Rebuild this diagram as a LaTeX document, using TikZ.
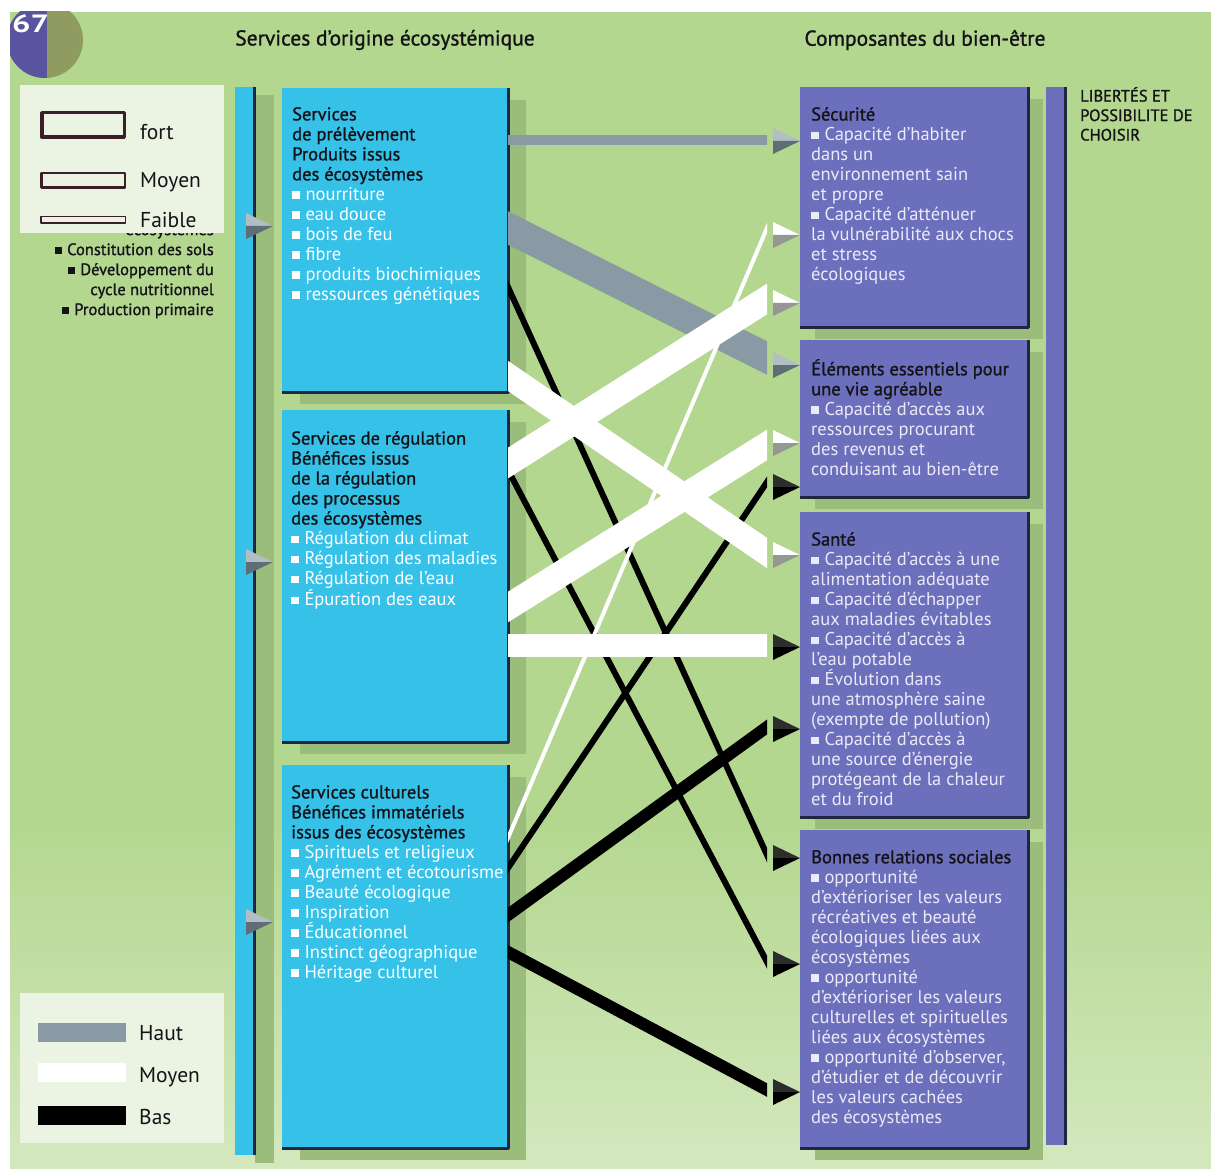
\documentclass[tikz,border=0pt]{standalone}
\usepackage{fontspec}
\usepackage{graphicx}
\setmainfont{PT Sans}
\newfontfamily\demi[FakeBold=1.2]{PT Sans}
\usetikzlibrary{shadows}
\definecolor{fond}{RGB}{179,215,143}
\definecolor{fondclair}{RGB}{212,232,190}
\definecolor{ombre}{RGB}{155,189,124}
\definecolor{bleu}{RGB}{54,193,232}
\definecolor{violet}{RGB}{107,111,188}
\definecolor{arete}{RGB}{30,38,66}
\definecolor{gris}{RGB}{138,154,164}
\definecolor{grisclair}{RGB}{178,190,198}
\definecolor{grisfonce}{RGB}{96,108,118}
\definecolor{blancombre}{RGB}{150,150,150}
\definecolor{noirclair}{RGB}{45,45,45}
\definecolor{cadre}{RGB}{58,30,42}
\definecolor{legende}{RGB}{235,244,227}
\definecolor{titre}{RGB}{20,20,24}
\definecolor{item}{RGB}{236,234,248}
\definecolor{disque}{RGB}{88,84,160}
\definecolor{olive}{RGB}{143,155,96}
\newcommand\carre{\rule[0.06em]{0.42em}{0.42em}\hspace{0.3em}}
\newcommand\titl[1]{{\demi\textcolor{titre}{#1}}}
\newcommand\pointe[4]{% base x, centre y, moitie haute, moitie basse
  \fill[#3] (#1,#2-13) -- (#1+27,#2) -- (#1,#2) -- cycle;
  \fill[#4] (#1,#2) -- (#1+27,#2) -- (#1,#2+13) -- cycle;}
\begin{document}
\begin{tikzpicture}[x=1pt,y=-1pt,line join=round,
    boitebleue/.style={fill=bleu,anchor=north west,inner sep=0pt,minimum width=226,minimum height=#1,
      drop shadow={shadow xshift=18pt,shadow yshift=-12pt,fill=ombre,opacity=1}},
    boiteviolette/.style={fill=violet,anchor=north west,inner sep=0pt,minimum width=228,minimum height=#1,
      drop shadow={shadow xshift=15pt,shadow yshift=-12pt,fill=ombre,opacity=1}},
    barre/.style={anchor=north west,inner sep=0pt,minimum width=19,minimum height=#1},
    bord/.style={arete,line width=2.5,line cap=butt},
    texte/.style={anchor=north west,inner sep=0pt,align=left,text=white,font=\fontsize{18.5}{20}\selectfont},
    bande/.style={line cap=butt,shorten <=-40pt,shorten >=-40pt},
    cadrelegende/.style={fill=legende,anchor=north west,inner sep=0pt,minimum width=204,minimum height=#1},
    etiquette/.style={anchor=base west,inner sep=0pt,text=titre,font=\fontsize{21.5}{22}\selectfont}]
  \useasboundingbox (0,0) rectangle (1211,1169);
  \fill[white] (0,0) rectangle (1211,1169);
  \fill[fond] (10,12) rectangle (1211,820);
  \shade[top color=fond,bottom color=fondclair] (10,819) rectangle (1211,1169);
  % pastille 67
  \begin{scope}
    \clip (10,12) rectangle (100,100);
    \clip (45,40) circle (38);
    \fill[olive] (0,0) rectangle (100,100);
    \fill[disque] (0,0) rectangle (47,100);
  \end{scope}
  \node[anchor=north west,inner sep=0pt,text=white,font=\bfseries\fontsize{25}{25}\selectfont] (num) at (12,14) {\scalebox{1.3}[1]{67}};
  % services d'auto-entretien, en partie caches
  \node[anchor=north east,inner sep=0pt,align=right,text=titre,font=\demi\fontsize{16.5}{20}\selectfont] (auto) at (214,223)
    {écosystèmes\\ \carre Constitution des sols\\ \carre Développement du\\ cycle nutritionnel\\ \carre Production primaire};
  % legende intensite
  \node[cadrelegende=148] (leg-intens) at (20,85) {};
  \draw[cadre,line width=3.5] (41.75,112.75) rectangle (124.25,137.25);
  \draw[cadre,line width=2.5] (41.25,173.25) rectangle (124.75,187.75);
  \draw[cadre,line width=1.5] (40.75,216.75) rectangle (125.25,223.25);
  \node[etiquette] (fort) at (140,140) {fort};
  \node[etiquette] (moyen1) at (140,188) {Moyen};
  \node[etiquette] (faible) at (140,228) {Faible};
  % legende mediation
  \node[cadrelegende=150] (leg-medi) at (20,993) {};
  \fill[gris] (38,1023) rectangle (126,1042);
  \fill[white] (38,1063) rectangle (126,1082);
  \fill[black] (38,1106) rectangle (126,1125);
  \node[etiquette] (haut) at (139,1040) {Haut};
  \node[etiquette] (moyen2) at (139,1082) {Moyen};
  \node[etiquette] (bas) at (139,1124) {Bas};
  % titres
  \node[text=titre,font=\demi\fontsize{21.5}{24}\selectfont] (serv) at (385,40) {Services d’origine écosystémique};
  \node[text=titre,font=\demi\fontsize{21.5}{24}\selectfont] (comp) at (925,40) {Composantes du bien-être};
  \node[anchor=north west,inner sep=0pt,align=left,text=titre,font=\demi\fontsize{16.5}{19.5}\selectfont] (lib) at (1080,87)
    {LIBERTÉS ET\\POSSIBILITE DE\\CHOISIR};
  % barres et boites
  \node[barre=1068,fill=bleu,drop shadow={shadow xshift=20pt,shadow yshift=-8pt,fill=ombre,opacity=1}] (bg) at (235,87) {};
  \node[barre=1058,fill=violet] (bd) at (1046,87) {};
  \node[boitebleue=304] (prel) at (282,88) {};
  \node[boitebleue=332] (regu) at (282,410) {};
  \node[boitebleue=383] (cult) at (282,765) {};
  \node[boiteviolette=240] (secu) at (800,87) {};
  \node[boiteviolette=157] (elem) at (800,340) {};
  \node[boiteviolette=305] (sante) at (800,512) {};
  \node[boiteviolette=318] (rel) at (800,830) {};
  \foreach \n in {prel,regu,cult,secu,elem,sante,rel}
    \draw[bord] (\n.north east) -- (\n.south east) -- (\n.south west);
  \foreach \n in {bg,bd} \draw[bord] (\n.north east) -- (\n.south east);
  % liens
  \coordinate (g1a) at (508,140);  \coordinate (g1b) at (767,140);
  \coordinate (g2a) at (508,228);  \coordinate (g2b) at (767,358);
  \coordinate (b1a) at (508,376);  \coordinate (b1b) at (767,553);
  \coordinate (b2a) at (508,463);  \coordinate (b2b) at (767,299);
  \coordinate (b3a) at (508,607);  \coordinate (b3b) at (767,445);
  \coordinate (b4a) at (508,645);  \coordinate (b4b) at (767,645);
  \coordinate (b5a) at (508,838);  \coordinate (b5b) at (767,228);
  \coordinate (n1a) at (508,287);  \coordinate (n1b) at (767,855);
  \coordinate (n2a) at (508,470);  \coordinate (n2b) at (767,962);
  \coordinate (n3a) at (508,868);  \coordinate (n3b) at (767,482);
  \coordinate (n4a) at (508,915);  \coordinate (n4b) at (767,727);
  \coordinate (n5a) at (508,952);  \coordinate (n5b) at (767,1090);
  \begin{scope}
    \clip (508,0) rectangle (767,1169);
    \draw[bande,black,line width=6] (n1a) -- (n1b);
    \draw[bande,black,line width=6] (n2a) -- (n2b);
    \draw[bande,black,line width=6] (n3a) -- (n3b);
    \draw[bande,black,line width=12] (n4a) -- (n4b);
    \draw[bande,black,line width=12] (n5a) -- (n5b);
    \draw[bande,gris,line width=10] (g1a) -- (g1b);
    \draw[bande,gris,line width=30] (g2a) -- (g2b);
    \draw[bande,white,line width=25] (b1a) -- (b1b);
    \draw[bande,white,line width=26] (b2a) -- (b2b);
    \draw[bande,white,line width=26] (b3a) -- (b3b);
    \draw[bande,white,line width=23] (b4a) -- (b4b);
    \draw[bande,white,line width=4] (b5a) -- (b5b);
  \end{scope}
  \foreach \y/\h/\b in {141/grisclair/grisfonce,235/white/blancombre,303/white/blancombre,365/grisclair/grisfonce,
      443/white/blancombre,487/noirclair/black,555/white/blancombre,647/noirclair/black,729/noirclair/black,
      858/noirclair/black,964/noirclair/black,1092/noirclair/black}
    \pointe{773}{\y}{\h}{\b};
  \foreach \y in {226,562,922} \pointe{246}{\y}{grisclair}{grisfonce};
  % textes des boites
  \node[texte] (prel-txt) at (292,107) {\titl{Services}\\ \titl{de prélèvement}\\ \titl{Produits issus}\\ \titl{des écosystèmes}\\
    \carre nourriture\\ \carre eau douce\\ \carre bois de feu\\ \carre fibre\\ \carre produits biochimiques\\ \carre ressources génétiques};
  \node[texte] (regu-txt) at (291,431) {\titl{Services de régulation}\\ \titl{Bénéfices issus}\\ \titl{de la régulation}\\
    \titl{des processus}\\ \titl{des écosystèmes}\\ \carre Régulation du climat\\ \carre Régulation des maladies\\
    \carre Régulation de l’eau\\ \carre Épuration des eaux};
  \node[texte] (cult-txt) at (291,785) {\titl{Services culturels}\\ \titl{Bénéfices immatériels}\\ \titl{issus des écosystèmes}\\
    \carre Spirituels et religieux\\ \carre Agrément et écotourisme\\ \carre Beauté écologique\\ \carre Inspiration\\
    \carre Éducationnel\\ \carre Instinct géographique\\ \carre Héritage culturel};
  \node[texte,text=item] (secu-txt) at (811,107) {\titl{Sécurité}\\ \carre Capacité d’habiter\\ dans un\\ environnement sain\\
    et propre\\ \carre Capacité d’atténuer\\ la vulnérabilité aux chocs\\ et stress\\ écologiques};
  \node[texte,text=item] (elem-txt) at (811,359) {\titl{Éléments essentiels pour}\\ \titl{une vie agréable}\\
    \carre Capacité d’accès aux\\ ressources procurant\\ des revenus et\\ conduisant au bien-être};
  \node[texte,text=item] (sante-txt) at (811,532) {\titl{Santé}\\ \carre Capacité d’accès à une\\ alimentation adéquate\\
    \carre Capacité d’échapper\\ aux maladies évitables\\ \carre Capacité d’accès à\\ l’eau potable\\ \carre Évolution dans\\
    une atmosphère saine\\ (exempte de pollution)\\ \carre Capacité d’accès à\\ une source d’énergie\\
    protégeant de la chaleur\\ et du froid};
  \node[texte,text=item] (rel-txt) at (811,850) {\titl{Bonnes relations sociales}\\ \carre opportunité\\
    d’extérioriser les valeurs\\ récréatives et beauté\\ écologiques liées aux\\ écosystèmes\\ \carre opportunité\\
    d’extérioriser les valeurs\\ culturelles et spirituelles\\ liées aux écosystèmes\\ \carre opportunité d’observer,\\
    d’étudier et de découvrir\\ les valeurs cachées\\ des écosystèmes};
\end{tikzpicture}
\end{document}
